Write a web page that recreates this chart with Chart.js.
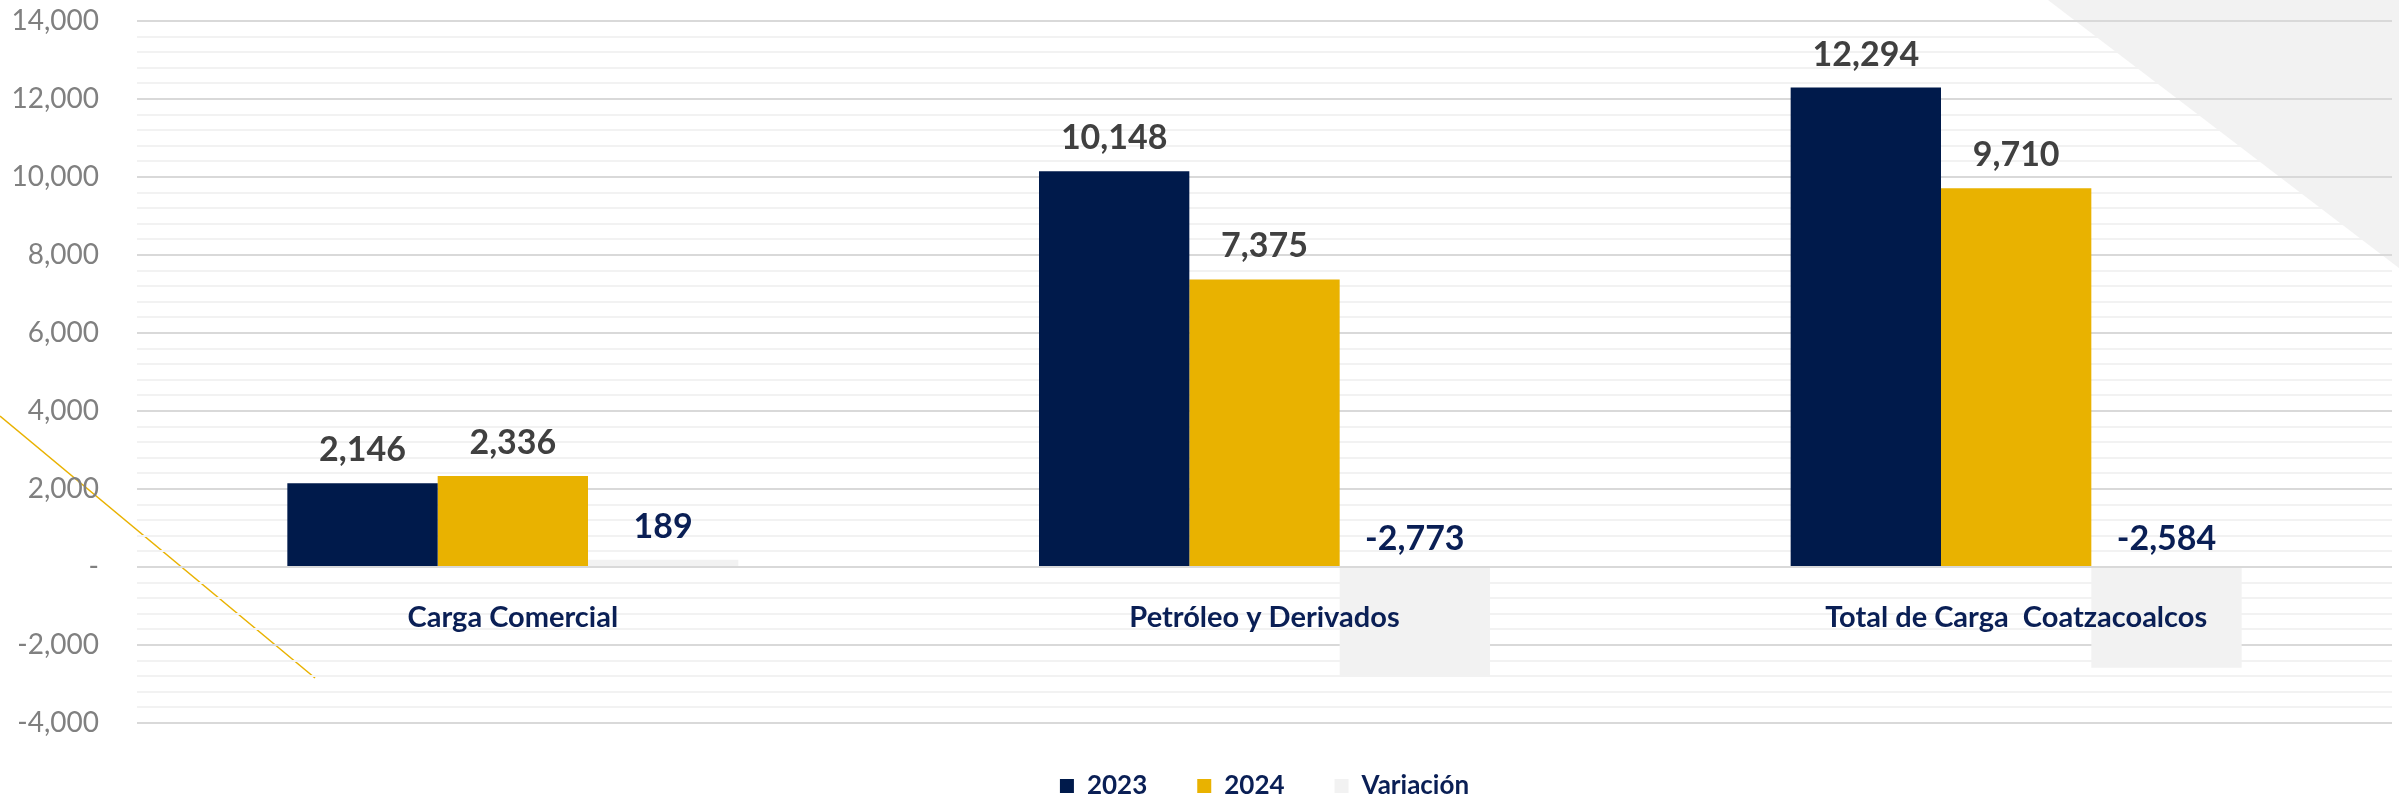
<!DOCTYPE html>
<html>
<head>
<meta charset="utf-8">
<script src="https://cdn.jsdelivr.net/npm/chart.js@4/dist/chart.umd.min.js"></script>
<style>
  html, body { margin: 0; padding: 0; background: #ffffff; }
  #wrap { width: 2399px; height: 801px; position: relative; }
</style>
</head>
<body>
<div id="wrap"><canvas id="c" width="2399" height="801"></canvas></div>
<script>
const categories = ['Carga Comercial', 'Petróleo y Derivados', 'Total de Carga  Coatzacoalcos'];
const seriesNames = ['2023', '2024', 'Variación'];
const values2023 = [2146, 10148, 12294];
const values2024 = [2336, 7375, 9710];
const valuesVariacion = [189, -2773, -2584];
const yMin = -4000;
const yMax = 14000;
const yStep = 400;
const yLabelStep = 2000;

const NAVY = '#001a4b';
const GOLD = '#e9b200';
const LIGHT = '#f2f2f2';
const LABEL_NAVY = '#0a1f55';

const fmt = v => v.toLocaleString('en-US');

const decorations = {
  id: 'decorations',
  beforeDraw(chart) {
    const ctx = chart.ctx;
    const W = chart.width;
    ctx.save();
    ctx.fillStyle = '#ffffff';
    ctx.fillRect(0, 0, W, chart.height);
    ctx.fillStyle = LIGHT;
    ctx.beginPath();
    ctx.moveTo(2048, 0);
    ctx.lineTo(W, 0);
    ctx.lineTo(W, 268);
    ctx.closePath();
    ctx.fill();
    ctx.strokeStyle = GOLD;
    ctx.lineWidth = 1.5;
    ctx.beginPath();
    ctx.moveTo(0, 416);
    ctx.lineTo(315, 678);
    ctx.stroke();
    ctx.restore();
  }
};

const valueLabels = {
  id: 'valueLabels',
  afterDatasetsDraw(chart) {
    const ctx = chart.ctx;
    const yScale = chart.scales.y;
    const zeroY = yScale.getPixelForValue(0);
    ctx.save();
    ctx.font = 'bold 34px Lato';
    ctx.textAlign = 'center';
    ctx.textBaseline = 'middle';
    chart.data.datasets.forEach((ds, di) => {
      const meta = chart.getDatasetMeta(di);
      ctx.fillStyle = di === 2 ? LABEL_NAVY : '#404040';
      meta.data.forEach((el, i) => {
        const v = ds.data[i];
        const y = v >= 0 ? el.y - 33 : zeroY - 28;
        ctx.fillText(fmt(v), el.x, y);
      });
    });
    ctx.restore();
  }
};

new Chart(document.getElementById('c'), {
  type: 'bar',
  data: {
    labels: categories,
    datasets: [
      { label: seriesNames[0], data: values2023, backgroundColor: NAVY },
      { label: seriesNames[1], data: values2024, backgroundColor: GOLD },
      { label: seriesNames[2], data: valuesVariacion, backgroundColor: LIGHT }
    ]
  },
  options: {
    responsive: false,
    animation: false,
    devicePixelRatio: 1,
    categoryPercentage: 0.6,
    barPercentage: 1.0,
    layout: { padding: { left: 0, right: 7, top: 21, bottom: -8 } },
    plugins: {
      tooltip: { enabled: false },
      legend: {
        position: 'bottom',
        fullSize: false,
        labels: {
          boxWidth: 14,
          boxHeight: 14,
          padding: 50,
          color: LABEL_NAVY,
          font: { family: 'Lato', size: 26, weight: 'bold' }
        }
      }
    },
    scales: {
      x: {
        type: 'category',
        position: { y: 0 },
        afterFit(scale) { scale.height = 0; },
        grid: { display: false },
        border: { display: false },
        ticks: {
          z: 1,
          padding: 25,
          color: LABEL_NAVY,
          font: { family: 'Lato', size: 29, weight: 'bold' }
        }
      },
      y: {
        min: yMin,
        max: yMax,
        afterFit(scale) {
          scale.width = 137;
          scale.paddingTop = 17;
          scale.paddingBottom = 17;
        },
        border: { display: false },
        grid: {
          drawTicks: false,
          lineWidth: 2,
          color: c => (c.tick && c.tick.value % yLabelStep === 0) ? '#d9d9d9' : '#f2f2f2'
        },
        ticks: {
          stepSize: yStep,
          autoSkip: false,
          padding: 38,
          color: '#808080',
          font: { family: 'Lato', size: 28 },
          callback: v => (v % yLabelStep === 0) ? (v === 0 ? '-' : fmt(v)) : ''
        }
      }
    }
  },
  plugins: [decorations, valueLabels]
});
</script>
</body>
</html>
